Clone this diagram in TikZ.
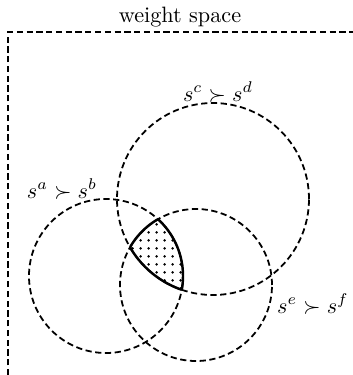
\documentclass[tikz,border=0pt]{standalone}
\usetikzlibrary{patterns}
\pgfdeclarepatternformonly{mydots}{\pgfpointorigin}{\pgfqpoint{3.4pt}{3.4pt}}{\pgfqpoint{3.4pt}{3.4pt}}{%
  \pgfpathcircle{\pgfqpoint{1.7pt}{1.7pt}}{0.65pt}\pgfusepath{fill}}
\begin{document}
\begin{tikzpicture}[x=0.45pt,y=-0.45pt,
  dashline/.style={line width=0.8pt,dash pattern=on 2.8pt off 1.6pt},
  solidline/.style={line width=1.1pt},
  lbl/.style={inner sep=0pt}]
\useasboundingbox (0,0) rectangle (352,375);
% frame (weight space)
\coordinate (fbl) at (8,385);
\coordinate (ftl) at (8,32);
\coordinate (ftr) at (365,32);
\draw[dashline] (fbl) -- (ftl) -- (ftr);
\node[lbl] (title) at (180,17) {weight space};
% circle centres
\coordinate (ca) at (106,276);
\coordinate (cc) at (213,199);
\coordinate (ce) at (196,285);
\def\ra{34.65pt}\def\rc{43.2pt}\def\re{34.2pt}
% shaded intersection
\begin{scope}
  \clip (ca) circle[radius=\ra];
  \clip (cc) circle[radius=\rc];
  \fill[pattern=mydots] (ce) circle[radius=\re];
\end{scope}
\begin{scope}
  \clip (ca) circle[radius=\ra];
  \clip (cc) circle[radius=\rc];
  \draw[solidline] (ce) circle[radius=\re];
\end{scope}
\begin{scope}
  \clip (ca) circle[radius=\ra];
  \clip (ce) circle[radius=\re];
  \draw[solidline] (cc) circle[radius=\rc];
\end{scope}
\begin{scope}
  \clip (cc) circle[radius=\rc];
  \clip (ce) circle[radius=\re];
  \draw[solidline] (ca) circle[radius=\ra];
\end{scope}
% dashed circles
\draw[dashline] (ca) circle[radius=\ra];
\draw[dashline] (cc) circle[radius=\rc];
\draw[dashline] (ce) circle[radius=\re];
% labels
\node[lbl] (lab) at (62,189) {$s^a \succ s^b$};
\node[lbl] (lcd) at (218,92) {$s^c \succ s^d$};
\node[lbl] (lef) at (313,304) {$s^e \succ s^f$};
\end{tikzpicture}
\end{document}
